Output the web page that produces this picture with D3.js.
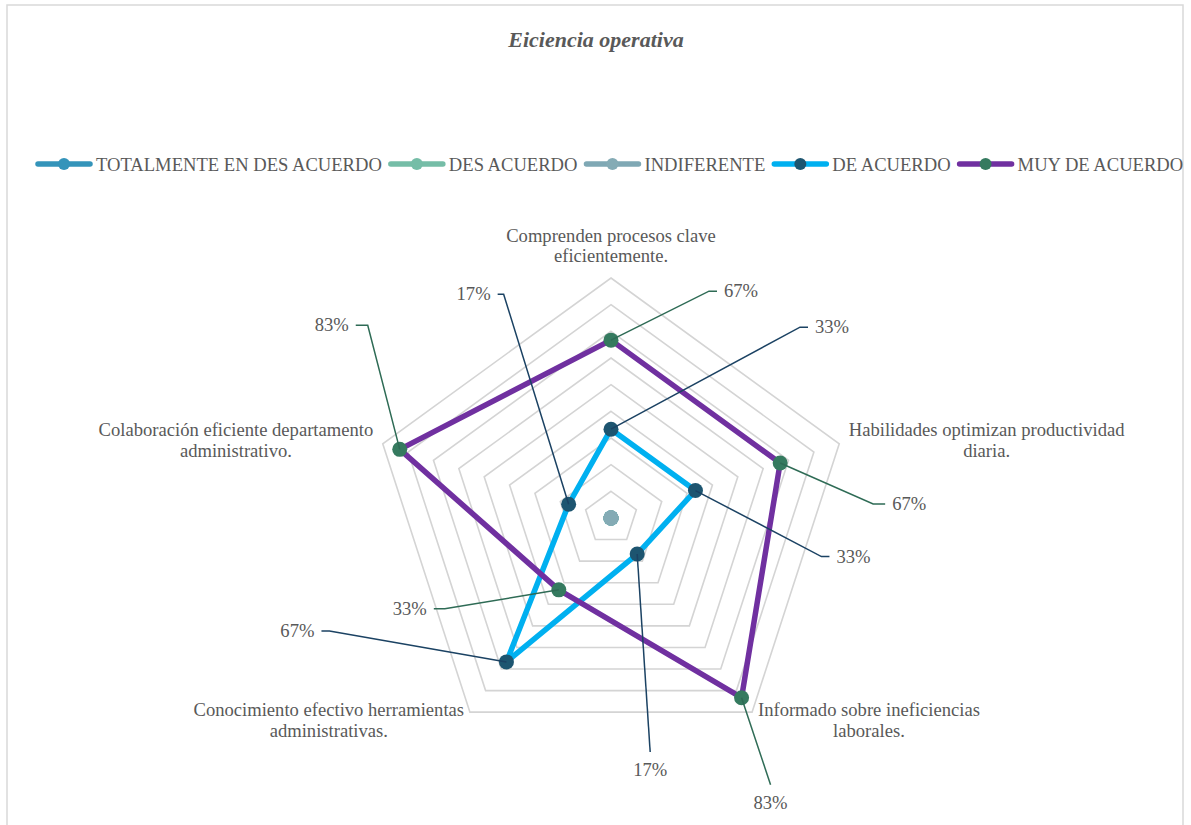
<!DOCTYPE html>
<html>
<head>
<meta charset="utf-8">
<script src="https://cdn.jsdelivr.net/npm/d3@7"></script>
<style>
  body { margin: 0; background: #fff; }
  text { font-family: "Liberation Serif", "Times New Roman", serif; fill: #595959; }
</style>
</head>
<body>
<div id="chart"></div>
<script>
// data
const title = "Eiciencia operativa";
const categories = [
  "Comprenden procesos clave\neficientemente.",
  "Habilidades optimizan productividad\ndiaria.",
  "Informado sobre ineficiencias\nlaborales.",
  "Conocimiento efectivo herramientas\nadministrativas.",
  "Colaboración eficiente departamento\nadministrativo."
];
const seriesNames = ["TOTALMENTE EN DES ACUERDO", "DES ACUERDO", "INDIFERENTE", "DE ACUERDO", "MUY DE ACUERDO"];
const totalmenteValues = [0, 0, 0, 0, 0];
const desAcuerdoValues = [0, 0, 0, 0, 0];
const indiferenteValues = [0, 0, 0, 0, 0];
const deAcuerdoValues = [0.333, 0.333, 0.167, 0.667, 0.167];
const muyDeAcuerdoValues = [0.667, 0.667, 0.833, 0.333, 0.833];
const gridTicks = [0.1, 0.2, 0.3, 0.4, 0.5, 0.6, 0.7, 0.8, 0.9];

// styles
const lineColors = ["#3494ba", "#75bda7", "#7fa8b4", "#00b0f0", "#7030a0"];
const markerColors = ["#3494ba", "#75bda7", "#84abb5", "#1d5570", "#357a5f"];
const leaderColors = [null, null, null, "#1b4263", "#2e6b55"];

// leader elbow offsets from the point, tail direction, label placement
const leaders = {
  3: [
    {dx: 189, dy: -102, tail: 8, pos: "right"},
    {dx: 126, dy: 66, tail: 8, pos: "right"},
    {dx: 13, dy: 198, tail: 0, pos: "below"},
    {dx: -177, dy: -31, tail: -8, pos: "left"},
    {dx: -65, dy: -210, tail: -6, pos: "left"}
  ],
  4: [
    {dx: 98, dy: -49, tail: 8, pos: "right"},
    {dx: 93, dy: 41, tail: 12, pos: "right"},
    {dx: 29, dy: 87, tail: 0, pos: "below"},
    {dx: -114, dy: 19, tail: -11, pos: "left"},
    {dx: -32, dy: -124, tail: -12, pos: "left"}
  ]
};

const width = 1191, height = 825;
const cx = 611, cy = 518, outerR = 240;
const fontSize = 18.6;

const allValues = [totalmenteValues, desAcuerdoValues, indiferenteValues, deAcuerdoValues, muyDeAcuerdoValues];
const series = seriesNames.map((name, i) => ({name, values: allValues[i], index: i}));

const svg = d3.select("#chart").append("svg")
  .attr("width", width).attr("height", height);

svg.append("rect")
  .attr("x", 7).attr("y", 5).attr("width", 1176).attr("height", 840)
  .attr("fill", "#fff").attr("stroke", "#d9d9d9").attr("stroke-width", 1.5);

svg.append("text")
  .attr("x", 596).attr("y", 47)
  .attr("text-anchor", "middle")
  .attr("font-size", 22).attr("font-weight", "bold").attr("font-style", "italic")
  .text(title);

const r = d3.scaleLinear().domain([0, 0.9]).range([0, outerR]);
const angle = d3.scaleLinear().domain([0, categories.length]).range([0, 2 * Math.PI]);

function pt(i, v) {
  const a = angle(i);
  return [cx + r(v) * Math.sin(a), cy - r(v) * Math.cos(a)];
}

// grid rings
const grid = svg.append("g");
gridTicks.forEach(t => {
  grid.append("polygon")
    .attr("points", categories.map((c, i) => pt(i, t).join(",")).join(" "))
    .attr("fill", "none").attr("stroke", "#d4d4d4").attr("stroke-width", 1.6);
});

// category labels
const catG = svg.append("g");
categories.forEach((c, i) => {
  const a = angle(i);
  const s = Math.sin(a), co = Math.cos(a);
  const [px, py] = pt(i, 0.9 + 10 / (outerR / 0.9));
  const lines = c.split("\n");
  const g = catG.append("g");
  const texts = lines.map((ln, k) => g.append("text")
    .attr("font-size", fontSize).attr("text-anchor", "middle")
    .attr("y", k * 20.5).text(ln));
  const w = d3.max(texts, t => t.node().getComputedTextLength());
  let x = px;
  if (s > 0.1) x = px + w / 2;
  else if (s < -0.1) x = px - w / 2;
  // block vertical center
  let yc = py;
  if (co > 0.9) yc = py - 22;
  const blockH = 20.5 * (lines.length - 1);
  g.attr("transform", `translate(${x},${yc - blockH / 2 + 6})`);
});

// series
const line = d3.line().curve(d3.curveLinearClosed);
series.forEach(sr => {
  const pts = sr.values.map((v, i) => pt(i, v));
  const g = svg.append("g");
  g.append("path")
    .attr("d", line(pts))
    .attr("fill", "none")
    .attr("stroke", lineColors[sr.index])
    .attr("stroke-width", 5.5)
    .attr("stroke-linejoin", "round");
  g.selectAll("circle").data(pts).join("circle")
    .attr("cx", d => d[0]).attr("cy", d => d[1]).attr("r", 7.5)
    .attr("fill", markerColors[sr.index]);
});

// data labels with leader lines
const fmt = d3.format(".0%");
[3, 4].forEach(si => {
  const sr = series[si];
  const g = svg.append("g");
  sr.values.forEach((v, i) => {
    const [x0, y0] = pt(i, v);
    const L = leaders[si][i];
    const ex = x0 + L.dx, ey = y0 + L.dy;
    const tx = ex + L.tail;
    g.append("polyline")
      .attr("points", `${x0},${y0} ${ex},${ey} ${tx},${ey}`)
      .attr("fill", "none").attr("stroke", leaderColors[si]).attr("stroke-width", 1.5);
    const t = g.append("text").attr("font-size", fontSize).text(fmt(v));
    if (L.pos === "right") t.attr("x", tx + 7).attr("y", ey + 6).attr("text-anchor", "start");
    else if (L.pos === "left") t.attr("x", tx - 7).attr("y", ey + 6).attr("text-anchor", "end");
    else t.attr("x", ex).attr("y", ey + 24).attr("text-anchor", "middle");
  });
});

// legend
const legend = svg.append("g").attr("transform", "translate(0,164)");
let lx = 36;
series.forEach(sr => {
  const g = legend.append("g").attr("transform", `translate(${lx},0)`);
  g.append("line").attr("x1", 2).attr("x2", 54).attr("y1", 0).attr("y2", 0)
    .attr("stroke", lineColors[sr.index]).attr("stroke-width", 5.5).attr("stroke-linecap", "round");
  g.append("circle").attr("cx", 28).attr("cy", 0).attr("r", 6).attr("fill", markerColors[sr.index]);
  const t = g.append("text").attr("x", 60).attr("y", 6.5).attr("font-size", fontSize).text(sr.name);
  lx += 60 + t.node().getComputedTextLength() + 7;
});
</script>
</body>
</html>
